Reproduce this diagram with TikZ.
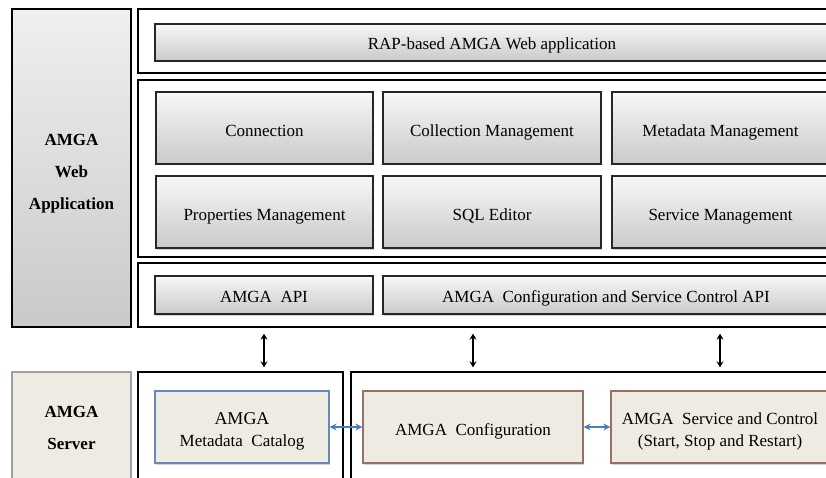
\documentclass[tikz,border=0pt]{standalone}
\usepackage{fontspec}
\setmainfont{Liberation Serif}
\usetikzlibrary{shadows,arrows.meta}
\definecolor{srvfill}{RGB}{238,236,226}
\definecolor{catblue}{RGB}{105,135,190}
\definecolor{cfgbrown}{RGB}{150,112,100}
\definecolor{arrblue}{RGB}{70,125,190}
\begin{document}
\begin{tikzpicture}[x=1pt, y=-1pt, line join=miter,
    layer/.style={draw=black, line width=1.3pt, fill=white, inner sep=0pt},
    modbox/.style={draw=black!85, line width=1.3pt, top color=gray!6, bottom color=gray!42,
        inner sep=0pt, minimum height=72, text height=17pt, text depth=0pt,
        font=\fontsize{17}{20}\selectfont,
        drop shadow={shadow xshift=1pt, shadow yshift=-1.5pt, opacity=0.35}},
    thinbox/.style={modbox, minimum height=38, text height=15pt},
    srvbox/.style={draw=#1, line width=1.2pt, fill=srvfill, inner sep=0pt,
        minimum height=72, font=\fontsize{17}{22}\selectfont,
        drop shadow={shadow xshift=1pt, shadow yshift=-1.5pt, opacity=0.35}},
    boxtext/.style={inner sep=0pt, align=center, font=\fontsize{17}{22}\selectfont},
    sidebox/.style={line width=1.3pt, inner sep=0pt, minimum width=119},
    sidetext/.style={inner sep=0pt, align=center, font=\bfseries\fontsize{17}{32}\selectfont},
    blk/.style={{Stealth[length=6pt,width=7pt]}-{Stealth[length=6pt,width=7pt]}, line width=1.3pt},
    blu/.style={{Stealth[length=7pt,width=7pt]}-{Stealth[length=7pt,width=7pt]}, line width=1.4pt, arrblue}]

    \useasboundingbox (0,0) rectangle (826,478);
    \clip (0,0) rectangle (826,478);

    % web application side
    \node[sidebox, draw=black, top color=gray!12, bottom color=gray!42,
        minimum height=318] (webapp) at (71.5,168) {};
    \node[sidetext] (webapptext) at ([yshift=-6pt]webapp.center) {AMGA\\Web\\Application};

    \node[layer, minimum width=698, minimum height=64] (toplayer) at (487,41) {};
    \node[thinbox, minimum width=674, minimum height=37] (rap) at (492,42.5) {RAP-based AMGA Web application};

    \node[layer, minimum width=698, minimum height=177] (modlayer) at (487,168.5) {};
    \node[modbox, minimum width=217] (conn) at (264.5,128) {Connection};
    \node[modbox, minimum width=218] (coll) at (492,128) {Collection Management};
    \node[modbox, minimum width=217] (meta) at (720.5,128) {Metadata Management};
    \node[modbox, minimum width=217] (prop) at (264.5,212) {Properties Management};
    \node[modbox, minimum width=218] (sql) at (492,212) {SQL Editor};
    \node[modbox, minimum width=217] (svcm) at (720.5,212) {Service Management};

    \node[layer, minimum width=698, minimum height=64] (apilayer) at (487,295) {};
    \node[thinbox, minimum width=218] (api) at (264,295) {AMGA\ \ API};
    \node[thinbox, minimum width=446] (cfgapi) at (606,295)
        {AMGA\ \ Configuration and Service Control API};

    % server side
    \node[sidebox, draw=gray!75, line width=1.6pt, fill=srvfill,
        minimum height=112] (server) at (71.5,428) {};
    \node[sidetext] (servertext) at (server.center) {AMGA\\Server};
    \node[layer, minimum width=205, minimum height=112] (catlayer) at (240.5,428) {};
    \node[layer, minimum width=486, minimum height=112] (cfglayer) at (594,428) {};

    \node[srvbox=catblue, minimum width=174] (catalog) at (242,427) {};
    \node[boxtext] (catalogtext) at ([yshift=-4pt]catalog.center)
        {{\fontsize{18}{22}\selectfont AMGA}\\Metadata\ \ Catalog};
    \node[srvbox=cfgbrown, minimum width=220, text height=16pt, text depth=0pt] (config) at (473,427)
        {AMGA\ \ Configuration};
    \node[srvbox=cfgbrown, minimum width=218] (service) at (720,427) {};
    \node[boxtext] (servicetext) at ([yshift=-4pt]service.center)
        {AMGA\ \ Service and Control\\(Start, Stop and Restart)};

    \draw[blk, shorten <=6pt, shorten >=4pt] (api.south |- apilayer.south) -- (api.south |- catlayer.north);
    \draw[blk, shorten <=6pt, shorten >=4pt] (config.north |- apilayer.south) -- (config.north |- cfglayer.north);
    \draw[blk, shorten <=6pt, shorten >=4pt] (service.north |- apilayer.south) -- (service.north |- cfglayer.north);

    \draw[blu] (catalog.east) -- (config.west);
    \draw[blu] (config.east) -- (service.west);

\end{tikzpicture}
\end{document}
